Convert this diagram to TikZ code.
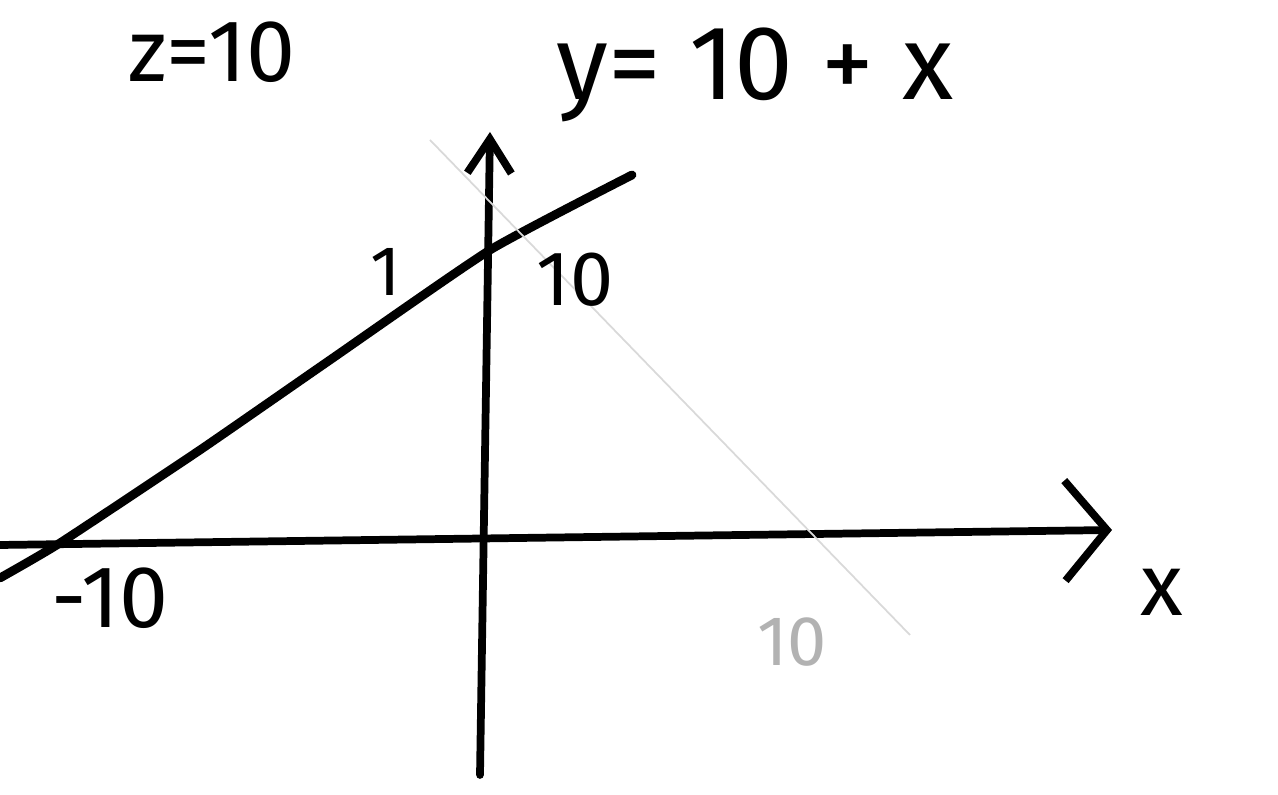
\documentclass[tikz,border=0pt]{standalone}
\usepackage{fontspec}
\setmainfont{Fira Sans}
\usetikzlibrary{arrows.meta,positioning}

\begin{document}
\begin{tikzpicture}[
  x=0.01cm, y=-0.01cm,
  font=\fontsize{25}{30}\selectfont,
  axis/.style={line width=2.2pt, line cap=round},
  graph/.style={line width=2.5pt, line cap=round},
  faint/.style={line width=0.5pt, black!15},
  lbl/.style={inner sep=0pt}
]
\useasboundingbox (0,0) rectangle (1278,795);

% --- axes ---
\coordinate (xl) at (0,545);
\coordinate (xr) at (1112,530);
\coordinate (yb) at (480,775);
\coordinate (yt) at (490,132);
\draw[axis, -{Straight Barb[length=4.2mm, width=10mm, line width=2.2pt]}] (xl) -- (xr);
\draw[axis, -{Straight Barb[length=3.4mm, width=4.4mm, line width=2.2pt]}] (yb) -- (yt);

% --- y = 10 + x ---
\draw[graph] plot[smooth, tension=0.3] coordinates {(0,578) (60,543) (200,450) (330,360) (490,250) (632,175)};

% faint line showing through the paper
\coordinate (fa) at (430,140);
\coordinate (fb) at (910,635);
\draw[faint] (fa) -- (fb);

% --- labels ---
\node[lbl] (ztxt) at (212,52) {z=10};
\node[lbl, font=\fontsize{30}{36}\selectfont] (eqn) at (755,75) {y= 10 + x};
\node[lbl, font=\fontsize{22}{26}\selectfont] (ten) at (575,280) {10};
\node[lbl] (mten) at (110,598) {-10};
\node[lbl] (xlab) at (1162,592) {x};
\node[lbl, font=\fontsize{20}{24}\selectfont] (tick) at (386,272) {1};
\node[lbl, font=\fontsize{20}{24}\selectfont, black!30] (tenb) at (792,642) {10};
\end{tikzpicture}
\end{document}
